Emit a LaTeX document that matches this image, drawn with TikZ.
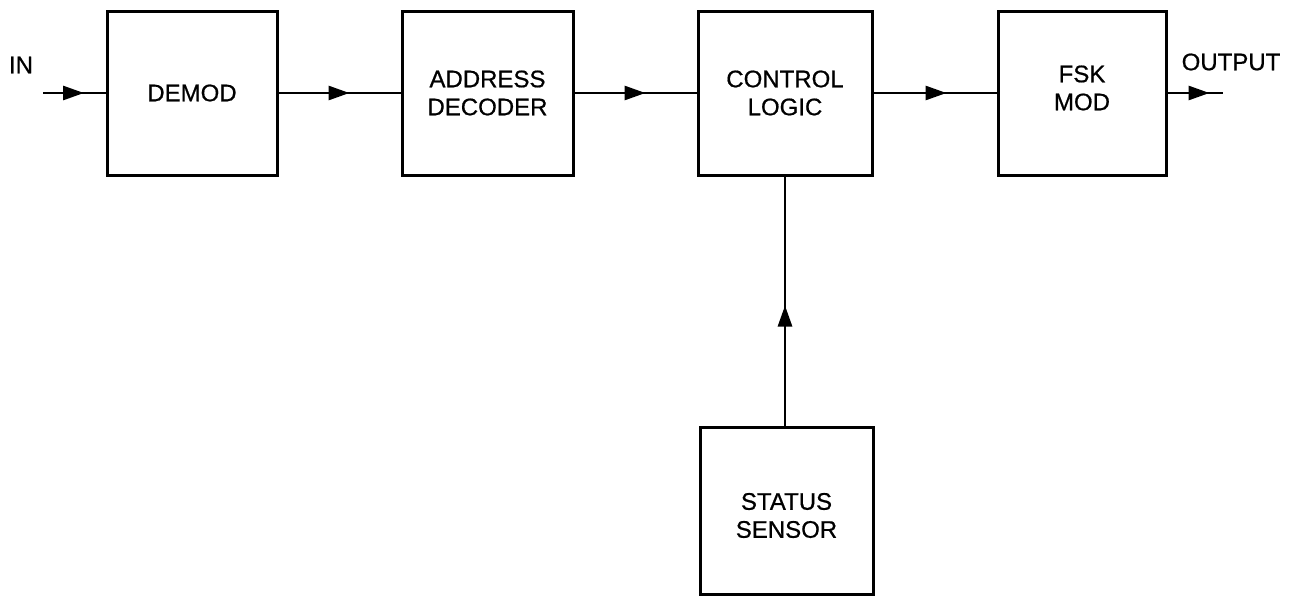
\documentclass[tikz,border=0pt]{standalone}
\usepackage{fontspec}
\setmainfont{Liberation Sans}[FakeBold=0.7]
\usetikzlibrary{arrows.meta,decorations.markings}
\tikzset{
  blk/.style={draw=black, line width=3pt, minimum width=170pt, minimum height=164pt,
    inner sep=0pt, align=center, font=\fontsize{24}{28}\selectfont},
  lbl/.style={inner sep=0pt, align=center, font=\fontsize{24}{28}\selectfont},
  conn/.style={draw=black, line width=2.8pt},
  midarrow/.style={postaction={decorate}, decoration={markings,
    mark=at position #1 with {\arrow{Triangle[length=21pt,width=14pt]}}}}
}
\begin{document}
\begin{tikzpicture}[x=1pt,y=-1pt]
\useasboundingbox (0,0) rectangle (1295,597);
\node[blk] (demod) at (192,93) {DEMOD};
\node[blk, minimum width=171pt] (addr) at (487.5,93) {ADDRESS\\DECODER};
\node[blk, minimum width=174pt] (ctrl) at (785,93) {CONTROL\\LOGIC};
\node[blk, minimum width=168pt, label={[lbl, yshift=5pt]center:FSK\\MOD}] (fsk) at (1082,93) {};
\node[blk, minimum width=173pt, minimum height=167pt, label={[lbl, yshift=-5pt]center:STATUS\\SENSOR}] (stat) at (786.5,510.5) {};
\node[lbl] (in) at (21,65) {IN};
\node[lbl] (out) at (1231,62) {OUTPUT};
\coordinate (inS) at (43,93);
\coordinate (outE) at (1223,93);
\draw[conn, midarrow=41pt] (inS) -- (demod.west);
\draw[conn, midarrow=71pt] (demod.east) -- (addr.west);
\draw[conn, midarrow=71pt] (addr.east) -- (ctrl.west);
\draw[conn, midarrow=73pt] (ctrl.east) -- (fsk.west);
\draw[conn, midarrow=42pt] (fsk.east) -- (outE);
\draw[conn, midarrow=120pt] (stat.north -| ctrl.south) -- (ctrl.south);
\end{tikzpicture}
\end{document}
